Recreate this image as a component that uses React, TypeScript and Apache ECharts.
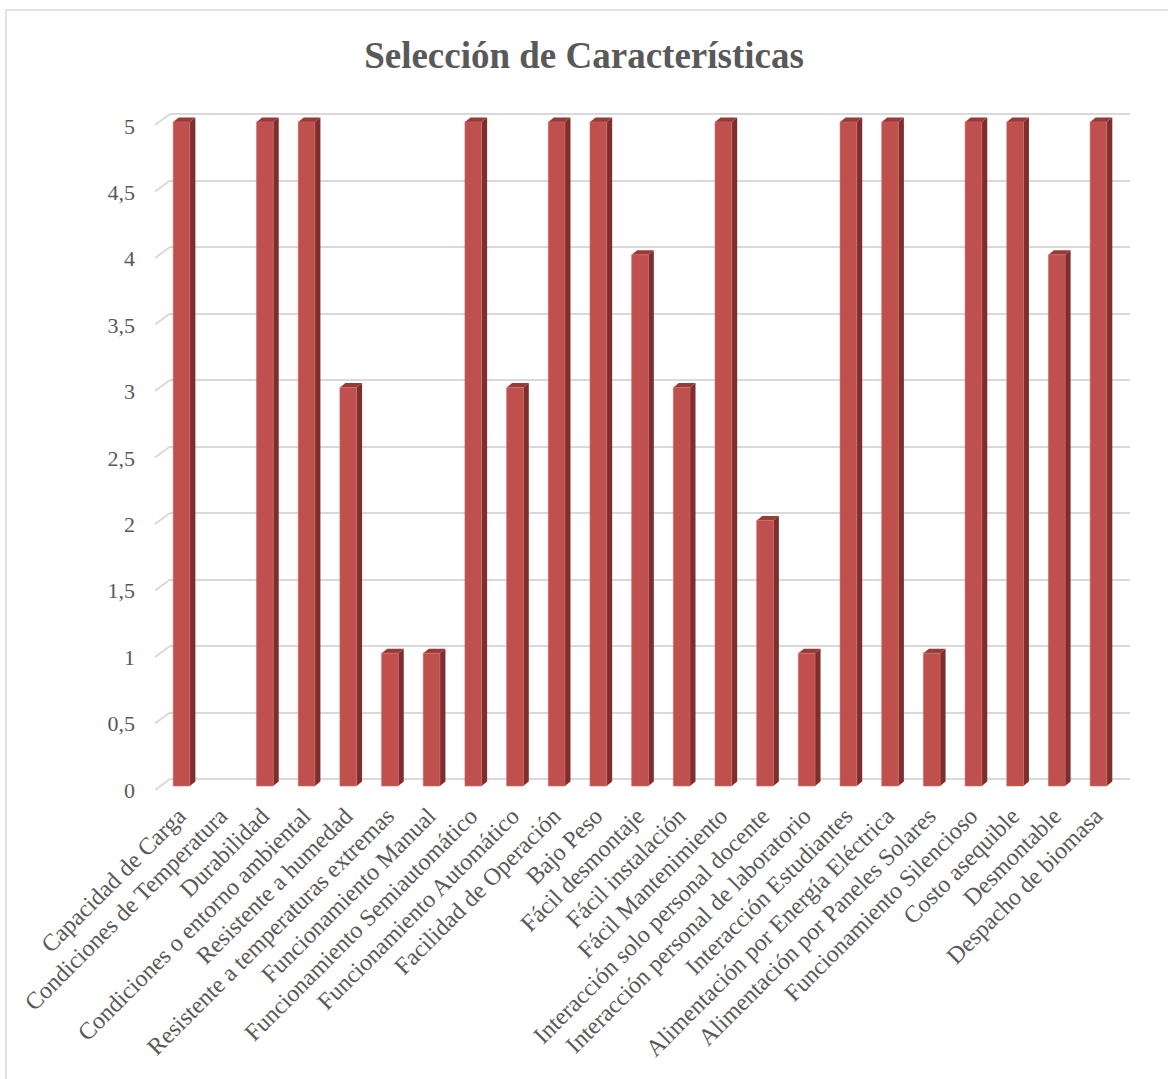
import React, { useEffect, useRef } from "react";
import * as echarts from "echarts";

const TITLE = "Selección de Características";

const categories = [
  "Capacidad de Carga",
  "Condiciones de Temperatura",
  "Durabilidad",
  "Condiciones o entorno ambiental",
  "Resistente a humedad",
  "Resistente a temperaturas extremas",
  "Funcionamiento Manual",
  "Funcionamiento Semiautomático",
  "Funcionamiento Automático",
  "Facilidad de Operación",
  "Bajo Peso",
  "Fácil desmontaje",
  "Fácil instalación",
  "Fácil Mantenimiento",
  "Interacción solo personal docente",
  "Interacción personal de laboratorio",
  "Interacción Estudiantes",
  "Alimentación por Energía Eléctrica",
  "Alimentación por Paneles Solares",
  "Funcionamiento Silencioso",
  "Costo asequible",
  "Desmontable",
  "Despacho de biomasa",
];

const values = [5, 0, 5, 5, 3, 1, 1, 5, 3, 5, 5, 4, 3, 5, 2, 1, 5, 5, 1, 5, 5, 4, 5];

const yTicks = [0, 0.5, 1, 1.5, 2, 2.5, 3, 3.5, 4, 4.5, 5];

const FONT = "'Liberation Serif', 'Times New Roman', serif";
const TEXT = "#595959";
const GRID_COLOR = "#d9d9d9";
const FRONT = "#c0504d";
const SIDE = "#7e2f2d";
const TOP = "#973b38";

export default function App() {
  const ref = useRef<HTMLDivElement>(null);

  useEffect(() => {
    if (!ref.current) return;
    const chart = echarts.init(ref.current, undefined, { renderer: "svg" });

    const option: any = {
      animation: false,
      backgroundColor: "#ffffff",
      title: {
        text: TITLE,
        left: "center",
        top: 32,
        textStyle: { fontFamily: FONT, fontSize: 37, fontWeight: "bold", color: TEXT },
      },
      graphic: [
        {
          type: "rect",
          shape: { x: 6, y: 10, width: 1300, height: 1300 },
          style: { fill: "none", stroke: GRID_COLOR, lineWidth: 1.5 },
          silent: true,
          z: -10,
        },
      ],
      grid: [
        // back wall (gridlines)
        { left: 170, right: 38, top: 114, bottom: 300 },
        // bars (front plane)
        { left: 160.7, right: 48.7, top: 122, bottom: 293 },
        // y-axis labels
        { left: 145, right: 38, top: 126, bottom: 289 },
      ],
      xAxis: [
        { gridIndex: 0, type: "category", data: categories, show: false },
        {
          gridIndex: 1,
          type: "category",
          data: categories,
          axisLine: { show: false },
          axisTick: { show: false },
          axisLabel: {
            interval: 0,
            rotate: 45,
            margin: 26,
            fontFamily: FONT,
            fontSize: 24,
            color: TEXT,
          },
        },
        { gridIndex: 2, type: "category", data: categories, show: false },
      ],
      yAxis: [
        {
          gridIndex: 0,
          type: "value",
          min: 0,
          max: 5,
          interval: 0.5,
          axisLabel: { show: false },
          axisLine: { show: false },
          axisTick: { show: false },
          splitLine: { show: true, lineStyle: { color: GRID_COLOR, width: 2 } },
        },
        {
          gridIndex: 1,
          type: "value",
          min: 0,
          max: 5,
          interval: 0.5,
          show: false,
          splitLine: { show: false },
        },
        {
          gridIndex: 2,
          type: "value",
          min: 0,
          max: 5,
          interval: 0.5,
          axisLine: { show: false },
          axisTick: { show: false },
          splitLine: { show: false },
          axisLabel: {
            margin: 10,
            fontFamily: FONT,
            fontSize: 22,
            color: TEXT,
            formatter: (v: number) => String(v).replace(".", ","),
          },
        },
      ],
      series: [
        {
          type: "custom",
          xAxisIndex: 0,
          yAxisIndex: 0,
          silent: true,
          z: 1,
          data: yTicks.map((t) => [0, t]),
          renderItem: (params: any, api: any) => {
            const p = api.coord([0, api.value(1)]);
            const x0 = params.coordSys.x;
            return {
              type: "line",
              shape: { x1: x0 - 15, y1: p[1] + 11, x2: x0, y2: p[1] },
              style: { stroke: GRID_COLOR, lineWidth: 2 },
            };
          },
        },
        {
          type: "custom",
          xAxisIndex: 1,
          yAxisIndex: 1,
          z: 5,
          data: values.map((v, i) => [i, v]),
          renderItem: (params: any, api: any) => {
            const v = api.value(1);
            if (!(v > 0)) return null;
            const idx = api.value(0);
            const top = api.coord([idx, v]);
            const base = api.coord([idx, 0]);
            const w = api.size([1, 0])[0] * 0.4;
            const dx = 5.5;
            const dy = 4.5;
            const xl = top[0] - w / 2;
            const xr = top[0] + w / 2;
            const yt = top[1];
            const yb = base[1];
            return {
              type: "group",
              children: [
                {
                  type: "polygon",
                  shape: {
                    points: [
                      [xr, yt],
                      [xr + dx, yt - dy],
                      [xr + dx, yb - dy],
                      [xr, yb],
                    ],
                  },
                  style: { fill: SIDE },
                },
                {
                  type: "polygon",
                  shape: {
                    points: [
                      [xl, yt],
                      [xl + dx, yt - dy],
                      [xr + dx, yt - dy],
                      [xr, yt],
                    ],
                  },
                  style: { fill: TOP },
                },
                {
                  type: "rect",
                  shape: { x: xl, y: yt, width: w, height: yb - yt },
                  style: { fill: FRONT, stroke: "#cf6a67", lineWidth: 0.6 },
                },
              ],
            };
          },
        },
      ],
    };

    chart.setOption(option);
    return () => chart.dispose();
  }, []);

  return (
    <div
      ref={ref}
      style={{ position: "fixed", left: 0, top: 0, width: 1168, height: 1079, background: "#fff" }}
    />
  );
}
